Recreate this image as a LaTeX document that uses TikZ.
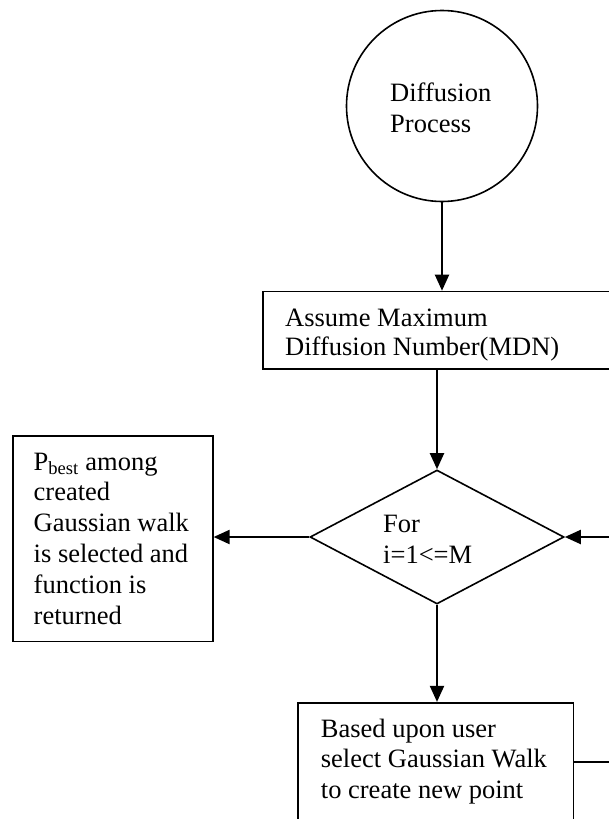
\documentclass[tikz,border=0pt]{standalone}
\usepackage{fontspec}
\setmainfont{Liberation Serif}
\usetikzlibrary{shapes.geometric,arrows.meta}
\newcommand\linestack[2]{\vtop{\baselineskip=#1\relax\lineskiplimit=-\maxdimen\lineskip=0pt #2}}
\tikzset{
  shapeline/.style={draw=black, line width=1.6pt, inner sep=0pt, fill=none},
  boxshape/.style={shapeline, rectangle},
  txt/.style={inner sep=0pt, anchor=base west, font=\fontsize{26.5}{30}\selectfont, text=black},
  conn/.style={draw=black, line width=2pt, -{Triangle[length=16pt,width=14pt]}},
  plainconn/.style={draw=black, line width=2pt}
}
\begin{document}
\begin{tikzpicture}[x=1pt,y=-1pt]
\clip (0,0) rectangle (609,819);
\fill[white] (0,0) rectangle (609,819);

% shapes
\node[shapeline, circle, minimum size=191pt] (start) at (442,106) {};
\node[boxshape, minimum width=387pt, minimum height=77.5pt] (mdn) at (456.5,330.25) {};
\node[shapeline, diamond, minimum width=254pt, minimum height=134pt] (loop) at (437,537) {};
\node[boxshape, minimum width=200pt, minimum height=205.6pt] (best) at (112.8,538.8) {};
\node[boxshape, minimum width=275.6pt, minimum height=157.3pt] (walk) at (435.8,781.35) {};

% texts
\node[txt] (tstart) at (390,101.7) {\linestack{31pt}{\hbox{Diffusion}\hbox{Process}}};
\node[txt] (tmdn) at (285,326.7) {\linestack{28.3pt}{\hbox{Assume Maximum}\hbox{Diffusion Number(MDN)}}};
\node[txt] (tloop) at (383,532.7) {\linestack{31pt}{\hbox{For}\hbox{i=1<=M}}};
\node[txt] (tbest) at (33.5,470) {\linestack{30.8pt}{\hbox{P\textsubscript{best} among}\hbox{created}\hbox{Gaussian walk}\hbox{is selected and}\hbox{function is}\hbox{returned}}};
\node[txt] (twalk) at (320.7,737.3) {\linestack{30.5pt}{\hbox{Based upon user}\hbox{select Gaussian Walk}\hbox{to create new point}}};

% loop-back coordinates (outside the visible page)
\coordinate (backA) at (650,762);
\coordinate (backB) at (650,537);

% connectors
\draw[conn] (start.south) -- (start.south |- mdn.north);
\draw[conn] (loop.north |- mdn.south) -- (loop.north);
\draw[conn] (loop.west) -- (loop.west -| best.east);
\draw[conn] (loop.south) -- (loop.south |- walk.north);
\draw[plainconn] (walk.east |- backA) -- (backA) -- (backB);
\draw[conn] (backB) -- (loop.east);
\end{tikzpicture}
\end{document}
